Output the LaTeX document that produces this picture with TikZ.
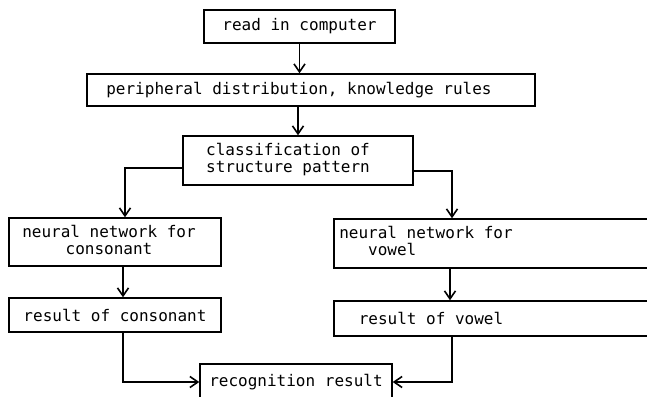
\documentclass[tikz,border=0pt]{standalone}
\usepackage{fontspec}
\setmonofont{DejaVu Sans Mono}
\usetikzlibrary{arrows.meta}

\tikzset{
  box/.style={draw, line width=1.4pt, inner sep=0pt, font=\ttfamily\fontsize{16}{17}\selectfont},
  arr/.style={line width=1.6pt, -{Straight Barb[length=8pt,width=11pt,line width=1.6pt]}},
}
\newcommand{\twolines}[3][c]{\begin{tabular}{@{}#1@{}}#2\\#3\end{tabular}}

\begin{document}
\begin{tikzpicture}[x=1pt,y=-1pt]
\useasboundingbox (0,0) rectangle (647,396);
\clip (0,0) rectangle (647,396);

%%%%%%%%%% upper chain
\node[box, minimum width=191pt, minimum height=33pt] (read) at (299.5,26.5) {read in computer};
\node[box, minimum width=448pt, minimum height=32pt] (periph) at (311,90) {peripheral distribution, knowledge rules\hspace*{24pt}};
\node[box, minimum width=230pt, minimum height=49pt] (class) at (298,160.5) {\twolines{classification of}{structure pattern}\hspace*{20pt}};

\draw[arr] (read.south) -- (read.south |- periph.north);
\draw[arr] (periph.south -| class) -- (class.north);

%%%%%%%%%% left: consonant
\node[box, minimum width=212pt, minimum height=48pt] (nncons) at (115,242) {\twolines{neural network for}{consonant}\hspace*{12pt}};
\node[box, minimum width=212pt, minimum height=34pt] (rescons) at (115,315) {result of consonant};

%%%%%%%%%% right: vowel (runs past the edge)
\node[box, minimum width=366pt, minimum height=49pt] (nnvow) at (517,243.5) {\twolines[l]{neural network for}{\phantom{neu}vowel}\hspace*{182pt}};
\node[box, minimum width=366pt, minimum height=35pt] (resvow) at (517,318.5) {result of vowel\hspace*{172pt}};

%%%%%%%%%% bottom
\node[box, minimum width=192pt, minimum height=36pt] (recog) at (296,382) {recognition result};

\draw[arr] ([yshift=-7.5pt]class.west) -| ([xshift=10pt]nncons.north);
\draw[arr] ([yshift=-10.5pt]class.east) -| ([xshift=-65pt]nnvow.north);
\draw[arr] ([xshift=8pt]nncons.south) -- ([xshift=8pt]rescons.north);
\draw[arr] ([xshift=-67pt]nnvow.south) -- ([xshift=-67pt]resvow.north);
\draw[arr] ([xshift=8pt]rescons.south) |- (recog.west);
\draw[arr] ([xshift=-65pt]resvow.south) |- (recog.east);
\end{tikzpicture}
\end{document}
